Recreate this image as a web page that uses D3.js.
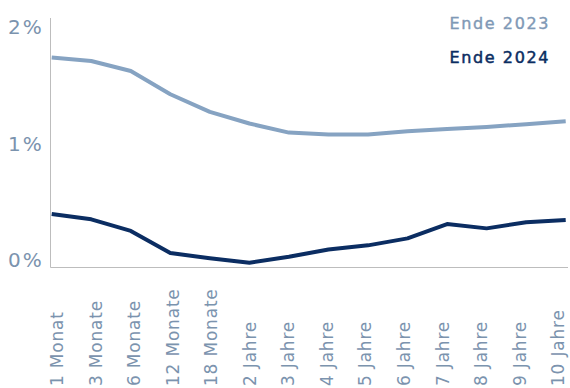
<!DOCTYPE html>
<html><head><meta charset="utf-8">
<script src="https://cdn.jsdelivr.net/npm/d3@7"></script>
<style>body{margin:0;background:#fff;overflow:hidden}svg{display:block}</style>
</head><body><svg id="c" width="570" height="388"></svg>
<script>
const categories = ["1 Monat","3 Monate","6 Monate","12 Monate","18 Monate","2 Jahre","3 Jahre","4 Jahre","5 Jahre","6 Jahre","7 Jahre","8 Jahre","9 Jahre","10 Jahre"];
const ende2023 = [1.80,1.77,1.685,1.485,1.333,1.233,1.155,1.139,1.139,1.167,1.185,1.204,1.227,1.253];
const ende2024 = [0.455,0.41,0.31,0.12,0.075,0.037,0.088,0.15,0.186,0.246,0.369,0.332,0.384,0.403];
const yTicks = [0,1,2];
const seriesNames = ["Ende 2023","Ende 2024"];

const svg = d3.select("#c");
const font = "'DejaVu Sans', sans-serif";
const x = d3.scalePoint().domain(categories).range([51.7,565.7]);
const xl = d3.scalePoint().domain(categories).range([57,558]);
const y = d3.scaleLinear().domain([0,2.14]).range([267,18]);

// axes lines
svg.append("line").attr("x1",50.5).attr("x2",50.5).attr("y1",18).attr("y2",267.5).attr("stroke","#bdbdbd").attr("stroke-width",1);
svg.append("line").attr("x1",50.5).attr("x2",568).attr("y1",267.5).attr("y2",267.5).attr("stroke","#bdbdbd").attr("stroke-width",1);

// y tick labels
svg.selectAll("text.yt").data(yTicks).join("text").attr("class","yt")
  .attr("x",8).attr("y",d=>y(d)-7).attr("dy","0.36em")
  .attr("font-family",font).attr("font-size",20).attr("letter-spacing",2)
  .attr("fill","#7b93ae").text(d=>d+"%");

// x labels
svg.selectAll("text.xt").data(categories).join("text").attr("class","xt")
  .attr("transform",d=>`translate(${xl(d)},386) rotate(-90)`)
  .attr("text-anchor","start").attr("dy","0.36em")
  .attr("font-family",font).attr("font-size",17).attr("letter-spacing",0.8)
  .attr("fill","#7b93ae").text(d=>d);

const line = d3.line().x((d,i)=>x(categories[i])).y(d=>y(d));
svg.append("path").datum(ende2023).attr("d",line).attr("fill","none").attr("stroke","#86a3c2").attr("stroke-width",4).attr("stroke-linejoin","round");
svg.append("path").datum(ende2024).attr("d",line).attr("fill","none").attr("stroke","#0b2d62").attr("stroke-width",4).attr("stroke-linejoin","round");

// legend
svg.append("text").attr("x",550).attr("y",23).attr("dy","0.36em").attr("text-anchor","end")
  .attr("font-family",font).attr("font-size",16).attr("letter-spacing",1.6)
  .attr("fill","#7f99b6").attr("stroke","#7f99b6").attr("stroke-width",0.4).text(seriesNames[0]);
svg.append("text").attr("x",550).attr("y",57).attr("dy","0.36em").attr("text-anchor","end")
  .attr("font-family",font).attr("font-size",16).attr("letter-spacing",1.6)
  .attr("fill","#0b2d62").attr("stroke","#0b2d62").attr("stroke-width",0.5).text(seriesNames[1]);
</script></body></html>
